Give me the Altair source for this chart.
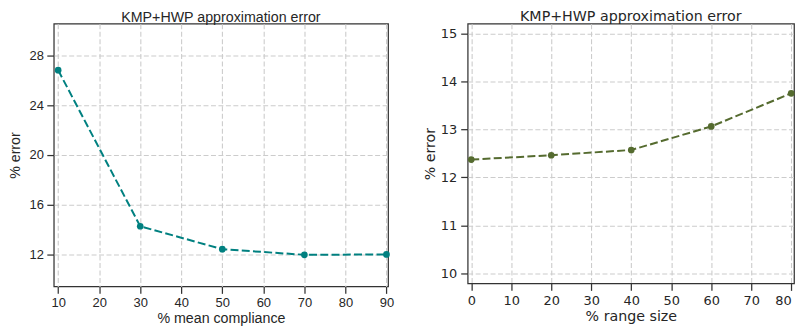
import altair as alt
import pandas as pd

# data
compliance = [10, 30, 50, 70, 90]
error_compliance = [26.8, 14.29, 12.45, 12.0, 12.03]
range_size = [0, 20, 40, 60, 80]
error_range = [12.37, 12.46, 12.57, 13.06, 13.75]

x1_ticks = [10, 20, 30, 40, 50, 60, 70, 80, 90]
y1_ticks = [12, 16, 20, 24, 28]
x2_ticks = [0, 10, 20, 30, 40, 50, 60, 70, 80]
y2_ticks = [10, 11, 12, 13, 14, 15]

TITLE = "KMP+HWP approximation error"
TEXT = "#262626"
FRAME = "#333333"


def make_axis(values, title, font, label_padding, title_padding, **extra):
    return alt.Axis(
        values=values, title=title, grid=True, gridDash=[5, 2.5],
        gridColor="#cccccc", gridWidth=1.1, domain=False, ticks=True,
        tickSize=7, tickWidth=1.25, tickColor=FRAME,
        labelFont=font, labelFontSize=13, labelColor=TEXT,
        labelPadding=label_padding,
        labelOverlap=False, labelFlush=False,
        titleFont=font, titleFontSize=14.3, titleFontWeight="normal",
        titleColor=TEXT, titlePadding=title_padding, **extra,
    )


def panel(xs, ys, xdom, ydom, xt, yt, xtitle, color, w, h, toff, font,
          xlp, xtp, ylp, ytp, xextra=None):
    df = pd.DataFrame({"x": xs, "y": ys})
    base = alt.Chart(df)
    x = alt.X("x:Q", scale=alt.Scale(domain=xdom, nice=False, zero=False),
              axis=make_axis(xt, xtitle, font, xlp, xtp, **(xextra or {})))
    y = alt.Y("y:Q", scale=alt.Scale(domain=ydom, nice=False, zero=False),
              axis=make_axis(yt, "% error", font, ylp, ytp))
    line = base.mark_line(color=color, strokeDash=[8, 3.3], strokeWidth=2).encode(x=x, y=y)
    pts = base.mark_point(filled=True, color=color, size=45, opacity=1).encode(x=x, y=y)
    return alt.layer(line, pts).properties(
        width=w, height=h,
        title=alt.Title(TITLE, font=font, fontSize=14.3, fontWeight="normal",
                        color=TEXT, offset=toff),
    )


left = panel(compliance, error_compliance, [8.93, 90.39], [9.47, 30.52],
             x1_ticks, y1_ticks, "% mean compliance", "#008080", 336, 264, -2,
             "Liberation Sans", 3, 2, 3.5, 6)
right = panel(range_size, error_range, [-0.9, 80.7], [9.79, 15.2],
              x2_ticks, y2_ticks, "% range size", "#556B2F", 328, 261, -0.7,
              "DejaVu Sans", 4, 2, 4, 3,
              xextra={"labelAlign": {"expr": "datum.value == 80 ? 'right' : 'center'"}})

chart = alt.hconcat(left, right, spacing=27).properties(
    padding=0, background="white"
).configure_view(stroke=FRAME, strokeWidth=1.25)

chart.save("out.html", embed_options={"renderer": "svg", "actions": False})
